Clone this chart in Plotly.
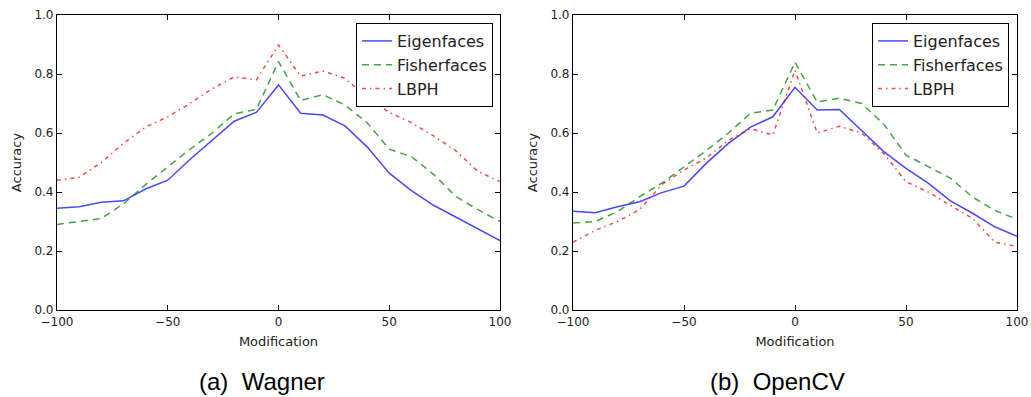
import plotly.graph_objects as go

x_mod = [-100, -90, -80, -70, -60, -50, -40, -30, -20, -10, 0, 10, 20, 30, 40, 50, 60, 70, 80, 90, 100]

wagner_eigen = [0.345, 0.35, 0.365, 0.37, 0.41, 0.44, 0.51, 0.575, 0.64, 0.67, 0.763, 0.667, 0.661, 0.624, 0.553, 0.464, 0.405, 0.355, 0.315, 0.275, 0.235]
wagner_fisher = [0.29, 0.30, 0.31, 0.36, 0.425, 0.485, 0.545, 0.60, 0.665, 0.68, 0.842, 0.71, 0.73, 0.695, 0.635, 0.545, 0.52, 0.46, 0.385, 0.34, 0.30]
wagner_lbph = [0.44, 0.45, 0.50, 0.565, 0.62, 0.655, 0.70, 0.75, 0.79, 0.78, 0.898, 0.793, 0.81, 0.785, 0.72, 0.67, 0.635, 0.59, 0.54, 0.47, 0.435]

opencv_eigen = [0.335, 0.33, 0.35, 0.367, 0.398, 0.42, 0.497, 0.565, 0.62, 0.655, 0.755, 0.678, 0.68, 0.61, 0.537, 0.48, 0.43, 0.37, 0.328, 0.282, 0.25]
opencv_fisher = [0.295, 0.30, 0.333, 0.384, 0.43, 0.485, 0.54, 0.60, 0.667, 0.678, 0.84, 0.705, 0.718, 0.70, 0.63, 0.525, 0.485, 0.447, 0.383, 0.337, 0.308]
opencv_lbph = [0.23, 0.27, 0.30, 0.34, 0.425, 0.475, 0.515, 0.575, 0.615, 0.593, 0.813, 0.60, 0.623, 0.60, 0.53, 0.435, 0.40, 0.355, 0.31, 0.23, 0.215]

series_names = ["Eigenfaces", "Fisherfaces", "LBPH"]
captions = ["(a)  Wagner", "(b)  OpenCV"]

colors = ["rgba(0,0,255,0.72)", "rgba(0,128,0,0.72)", "rgba(255,0,0,0.72)"]
dashes = ["solid", "7px,5px", "4px,4px,1.5px,4px"]

fig = go.Figure()

panels = [
    ([wagner_eigen, wagner_fisher, wagner_lbph], "x", "y", "legend"),
    ([opencv_eigen, opencv_fisher, opencv_lbph], "x2", "y2", "legend2"),
]
for p, (vals, xa, ya, lg) in enumerate(panels):
    for i, (name, v) in enumerate(zip(series_names, vals)):
        fig.add_trace(go.Scatter(
            x=x_mod, y=v, mode="lines", name=name,
            line=dict(color=colors[i], width=1.5, dash=dashes[i]),
            xaxis=xa, yaxis=ya, legend=lg, legendgroup=f"{lg}_{i}",
        ))

W, H = 1031, 397
ml, mr, mt, mb = 57, 14, 15, 87
pw = W - ml - mr

tick_font = dict(family="DejaVu Sans", size=12, color="#222")
title_font = dict(family="DejaVu Sans", size=13, color="#222")

def xax(domain):
    return dict(domain=domain, range=[-100, 100], tickvals=[-100, -50, 0, 50, 100],
                ticks="inside", ticklen=5, tickcolor="black", mirror="ticks",
                showline=True, linecolor="black", linewidth=1.2, showgrid=False,
                zeroline=False, tickfont=tick_font, automargin=False,
                title=dict(text="Modification", font=title_font, standoff=9))

def yax(anchor):
    return dict(domain=[0, 1], range=[0, 1], tickvals=[0, 0.2, 0.4, 0.6, 0.8, 1.0],
                tickformat=".1f", ticks="inside", ticklen=5, tickcolor="black",
                mirror="ticks", showline=True, linecolor="black", linewidth=1.2,
                showgrid=False, zeroline=False, tickfont=tick_font, automargin=False,
                anchor=anchor,
                title=dict(text="Accuracy", font=title_font, standoff=9))

d1 = [0, (500 - ml) / pw]
d2 = [(573 - ml) / pw, 1.0]

def leg(xr):
    return dict(x=xr, y=(310 - 23) / 295, xanchor="right", yanchor="top",
                bordercolor="black", borderwidth=1, bgcolor="white",
                font=dict(family="DejaVu Sans", size=16, color="#222"),
                tracegroupgap=0, traceorder="grouped")

fig.update_layout(
    width=W, height=H,
    margin=dict(l=ml, r=mr, t=mt, b=mb),
    paper_bgcolor="white", plot_bgcolor="white",
    xaxis=xax(d1), yaxis=yax("x"),
    xaxis2=dict(xax(d2), anchor="y2"), yaxis2=yax("x2"),
    legend=leg((493 - ml) / pw),
    legend2=leg((1009 - ml) / pw),
    showlegend=True,
)
fig.layout.xaxis.anchor = "y"

for cap, cx in zip(captions, [262, 777]):
    fig.add_annotation(text=cap, xref="paper", yref="paper",
                       x=(cx - ml) / pw, y=(310 - 381) / 295,
                       xanchor="center", yanchor="middle", showarrow=False,
                       font=dict(family="Liberation Sans", size=24, color="black"))

fig.write_html("out.html", config={"displayModeBar": False},
               post_script="document.body.style.margin='0';")
